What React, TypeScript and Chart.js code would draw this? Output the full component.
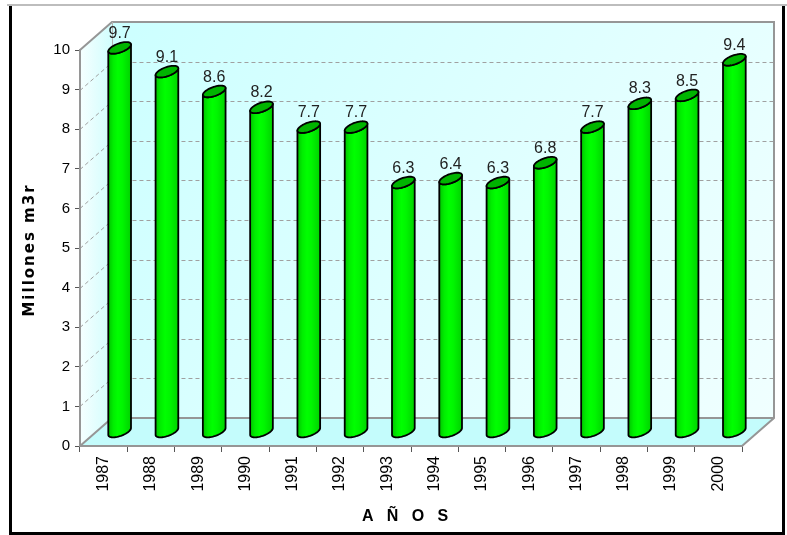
import React, { useEffect, useRef } from 'react';
import { Chart, registerables } from 'chart.js';

Chart.register(...registerables);

// ---- data ----
const years = ['1987', '1988', '1989', '1990', '1991', '1992', '1993', '1994', '1995', '1996', '1997', '1998', '1999', '2000'];
const volumes = [9.7, 9.1, 8.6, 8.2, 7.7, 7.7, 6.3, 6.4, 6.3, 6.8, 7.7, 8.3, 8.5, 9.4];
const yMin = 0;
const yMax = 10;
const yStep = 1;
const yTitle = 'Millones m3r';
const xTitle = 'A   Ñ   O   S';

// ---- style constants ----
const W = 787;
const H = 535;
const DEPTH_X = 32;
const DEPTH_Y = 28;
const FONT = '"Liberation Sans", Arial, sans-serif';

const framePlugin = {
  id: 'frame3d',
  beforeDraw(chart: any) {
    const { ctx, chartArea: ca, scales } = chart;
    const ys = scales.y;
    ctx.save();
    ctx.fillStyle = '#ffffff';
    ctx.fillRect(0, 0, chart.width, chart.height);
    // outer frame
    ctx.fillStyle = '#bdbdbd';
    ctx.fillRect(7, 4, 780, 2);
    ctx.fillStyle = '#000000';
    ctx.fillRect(9, 6, 3, 529);
    ctx.fillRect(782, 6, 3, 529);
    ctx.fillRect(9, 532, 776, 3);

    const L = ca.left, R = ca.right, T = ca.top, B = ca.bottom;
    const bl = L + DEPTH_X, br = R + DEPTH_X, bt = T - DEPTH_Y, bb = B - DEPTH_Y;

    // back wall
    let g = ctx.createLinearGradient(bl, bt, br, bb);
    g.addColorStop(0, '#ccffff');
    g.addColorStop(1, '#f0ffff');
    ctx.fillStyle = g;
    ctx.fillRect(bl, bt, br - bl, bb - bt);

    // side wall
    g = ctx.createLinearGradient(L, 0, bl, 0);
    g.addColorStop(0, '#f6ffff');
    g.addColorStop(1, '#d0fdfd');
    ctx.fillStyle = g;
    ctx.beginPath();
    ctx.moveTo(L, T);
    ctx.lineTo(bl, bt);
    ctx.lineTo(bl, bb);
    ctx.lineTo(L, B);
    ctx.closePath();
    ctx.fill();

    // floor
    ctx.fillStyle = '#c4fcfc';
    ctx.beginPath();
    ctx.moveTo(L, B);
    ctx.lineTo(bl, bb);
    ctx.lineTo(br, bb);
    ctx.lineTo(R, B);
    ctx.closePath();
    ctx.fill();

    // dashed gridlines (side + back wall)
    ctx.setLineDash([4, 3]);
    ctx.strokeStyle = '#a0a0a0';
    ctx.lineWidth = 1;
    ys.ticks.forEach((t: any) => {
      if (t.value <= yMin || t.value >= yMax) return;
      const py = Math.round(ys.getPixelForValue(t.value)) + 0.5;
      ctx.beginPath();
      ctx.moveTo(L, py);
      ctx.lineTo(bl, py - DEPTH_Y);
      ctx.lineTo(br, py - DEPTH_Y);
      ctx.stroke();
    });
    ctx.setLineDash([]);

    // box edges
    ctx.strokeStyle = '#969696';
    ctx.lineWidth = 2;
    ctx.beginPath();
    ctx.moveTo(L, T);
    ctx.lineTo(bl, bt);
    ctx.lineTo(br, bt);
    ctx.lineTo(br, bb);
    ctx.lineTo(R, B);
    ctx.moveTo(L, B);
    ctx.lineTo(bl, bb);
    ctx.lineTo(br, bb);
    ctx.stroke();
    ctx.lineWidth = 1;
    ctx.strokeStyle = '#b4b4b4';
    ctx.beginPath();
    ctx.moveTo(bl + 0.5, bt);
    ctx.lineTo(bl + 0.5, bb);
    ctx.stroke();
    ctx.restore();
  },
};

const cylinderPlugin = {
  id: 'cylinders',
  afterDatasetsDraw(chart: any) {
    const { ctx } = chart;
    const meta = chart.getDatasetMeta(0);
    const values = chart.data.datasets[0].data as number[];
    const len = Math.hypot(DEPTH_X, DEPTH_Y);
    const ux = DEPTH_X / len;
    const uy = -DEPTH_Y / len;
    meta.data.forEach((el: any, i: number) => {
      const { x, y, base, width } = el.getProps(['x', 'y', 'base', 'width'], true);
      const cx = x + DEPTH_X / 2;
      const topY = y - DEPTH_Y / 2;
      const botY = base - DEPTH_Y / 2;
      const half = width / 2;
      const b = 0.39 * width;
      const a = Math.sqrt(Math.max(half * half - (b * ux) * (b * ux), 1));
      const t0 = Math.atan2(b * ux, a);
      const pt = (cy: number, t: number) => [cx + a * Math.cos(t) + b * ux * Math.sin(t), cy + b * uy * Math.sin(t)];
      const N = 28;

      ctx.save();
      ctx.lineJoin = 'round';
      // body
      const g = ctx.createLinearGradient(cx - half, 0, cx + half, 0);
      g.addColorStop(0, '#00c400');
      g.addColorStop(0.22, '#00ee00');
      g.addColorStop(0.42, '#00ff00');
      g.addColorStop(0.62, '#00f600');
      g.addColorStop(1, '#00d200');
      ctx.beginPath();
      let p = pt(topY, t0 + Math.PI);
      ctx.moveTo(p[0], p[1]);
      for (let k = 0; k <= N; k++) {
        p = pt(botY, t0 + Math.PI + (Math.PI * k) / N);
        ctx.lineTo(p[0], p[1]);
      }
      for (let k = 0; k <= N; k++) {
        p = pt(topY, t0 + 2 * Math.PI - (Math.PI * k) / N);
        ctx.lineTo(p[0], p[1]);
      }
      ctx.closePath();
      ctx.fillStyle = g;
      ctx.fill();
      ctx.strokeStyle = '#000000';
      ctx.lineWidth = 1.8;
      ctx.stroke();

      // cap
      ctx.beginPath();
      for (let k = 0; k <= 2 * N; k++) {
        p = pt(topY, (Math.PI * k) / N);
        if (k === 0) ctx.moveTo(p[0], p[1]);
        else ctx.lineTo(p[0], p[1]);
      }
      ctx.closePath();
      ctx.fillStyle = '#00b400';
      ctx.fill();
      ctx.stroke();

      // value label
      ctx.font = '16px ' + FONT;
      ctx.fillStyle = '#222222';
      ctx.textAlign = 'center';
      ctx.textBaseline = 'alphabetic';
      ctx.fillText(values[i].toFixed(1), cx, topY + b * uy - 4);
      ctx.restore();
    });
  },
};

const titlesPlugin = {
  id: 'axisTitles',
  afterDraw(chart: any) {
    const { ctx, chartArea: ca } = chart;
    ctx.save();
    ctx.fillStyle = '#000000';
    // y title
    ctx.translate(30, (ca.top + ca.bottom) / 2 + 3);
    ctx.rotate(-Math.PI / 2);
    ctx.font = 'bold 15px "DejaVu Sans", Verdana, sans-serif';
    try {
      (ctx as any).letterSpacing = '2px';
    } catch (e) {}
    ctx.textAlign = 'center';
    ctx.textBaseline = 'middle';
    ctx.fillText(yTitle, 1, 0);
    ctx.restore();

    ctx.save();
    ctx.fillStyle = '#000000';
    ctx.font = 'bold 16px ' + FONT;
    ctx.textAlign = 'center';
    ctx.textBaseline = 'middle';
    ctx.fillText(xTitle, (ca.left + ca.right) / 2 - 6, 517);
    ctx.restore();
  },
};

export default function App() {
  const canvasRef = useRef<HTMLCanvasElement | null>(null);

  useEffect(() => {
    const canvas = canvasRef.current;
    if (!canvas) return;
    const chart = new Chart(canvas, {
      type: 'bar',
      data: {
        labels: years,
        datasets: [
          {
            data: volumes,
            backgroundColor: 'rgba(0,0,0,0)',
            borderWidth: 0,
            categoryPercentage: 1,
            barPercentage: 0.48,
          },
        ],
      },
      options: {
        responsive: false,
        animation: false,
        devicePixelRatio: 1,
        layout: { padding: { left: 0, top: 50, right: 45, bottom: 0 } },
        plugins: {
          legend: { display: false },
          tooltip: { enabled: false },
          title: { display: false },
        },
        scales: {
          x: {
            afterFit: (s: any) => {
              s.height = 89;
            },
            grid: {
              drawOnChartArea: false,
              drawTicks: true,
              tickLength: 6,
              color: '#555555',
              offset: true,
            },
            border: { display: true, color: '#969696', width: 2 },
            ticks: {
              minRotation: 90,
              maxRotation: 90,
              padding: 4,
              color: '#000000',
              font: { family: FONT, size: 16 },
              autoSkip: false,
            },
          },
          y: {
            min: yMin,
            max: yMax,
            afterFit: (s: any) => {
              s.width = 80;
            },
            grid: {
              drawOnChartArea: false,
              drawTicks: true,
              tickLength: 5,
              color: '#555555',
            },
            border: { display: true, color: '#969696', width: 2 },
            ticks: {
              stepSize: yStep,
              padding: 5,
              color: '#000000',
              font: { family: FONT, size: 15 },
            },
          },
        },
      },
      plugins: [framePlugin, cylinderPlugin, titlesPlugin],
    });
    return () => chart.destroy();
  }, []);

  return (
    <div style={{ position: 'fixed', left: 0, top: 0, width: W, height: H, background: '#fff' }}>
      <canvas ref={canvasRef} width={W} height={H} style={{ display: 'block', width: W, height: H }} />
    </div>
  );
}
